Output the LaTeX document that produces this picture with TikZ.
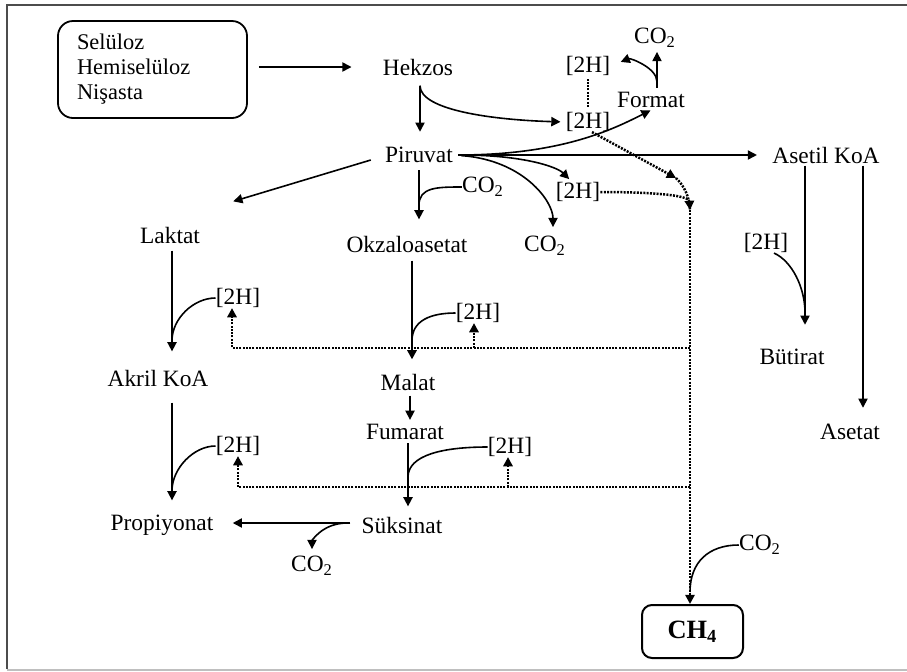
\documentclass[tikz,border=0pt]{standalone}
\usepackage{fontspec}
\setmainfont{Liberation Serif}
\usetikzlibrary{arrows.meta}
\begin{document}
\begin{tikzpicture}[x=0.5pt,y=-0.5pt,
  txt/.style={inner sep=0pt, font=\fontsize{11.7}{14}\selectfont},
  arr/.style={-{Triangle[length=4.6pt,width=4.6pt]}, line width=0.8pt},
  ln/.style={line width=0.8pt},
  dots/.style={line width=1.25pt, dash pattern=on 1pt off 0.65pt},
  darr/.style={dots, -{Triangle[length=4.6pt,width=4.6pt]}},
]
\useasboundingbox (0,0) rectangle (907,671);
\fill[white] (0,0) rectangle (907,671);
\draw[black!70, line width=1.2pt] (7,669) -- (7,5) -- (907,5);
\draw[black!25, line width=1pt] (7,669.5) -- (907,669.5);

% nodes
\node[draw, rounded corners=7.5pt, line width=0.9pt, minimum width=94.5pt, minimum height=48.5pt,
      inner sep=0pt, align=left, text width=75.5pt, font=\fontsize{11.2}{12.5}\selectfont]
      (src) at (152.5,69.5) {Selüloz\\Hemiselüloz\\Nişasta};
\node[txt] (hek) at (418,67) {Hekzos};
\node[txt] (pir) at (419,155) {Piruvat};
\node[txt] (h2a) at (588,66) {[2H]};
\node[txt] (co2a) at (655,38) {CO\textsubscript{2}};
\node[txt] (form) at (651,100) {Format};
\node[txt] (h2b) at (588,122) {[2H]};
\node[txt] (asetil) at (826,155) {Asetil KoA};
\node[txt] (h2c) at (578,192) {[2H]};
\node[txt] (co2b) at (545,246) {CO\textsubscript{2}};
\node[txt] (co2c) at (483,187) {CO\textsubscript{2}};
\node[txt] (lak) at (170,235) {Laktat};
\node[txt] (okz) at (407,244) {Okzaloasetat};
\node[txt] (h2d) at (238,298) {[2H]};
\node[txt] (h2e) at (478,313) {[2H]};
\node[txt] (akril) at (158,378) {Akril KoA};
\node[txt] (malat) at (408,382) {Malat};
\node[txt] (fum) at (405,432) {Fumarat};
\node[txt] (h2f) at (238,446) {[2H]};
\node[txt] (h2g) at (510,447) {[2H]};
\node[txt] (prop) at (162,525) {Propiyonat};
\node[txt] (suk) at (402,525) {Süksinat};
\node[txt] (co2d) at (312,566) {CO\textsubscript{2}};
\node[txt] (h2h) at (766,243) {[2H]};
\node[txt] (but) at (792,357) {Bütirat};
\node[txt] (asetat) at (850,432) {Asetat};
\node[txt] (co2e) at (760,545) {CO\textsubscript{2}};
\node[draw, rounded corners=5pt, line width=1pt, minimum width=50.5pt, minimum height=26.5pt,
      inner sep=0pt, font=\fontsize{13.2}{15}\selectfont\bfseries] (ch4) at (692.5,631.5) {CH\textsubscript{4}\hspace{7pt}};

\coordinate (j1) at (676,178);
\coordinate (j2) at (690,210);
\coordinate (j3) at (690,592);
\coordinate (r1) at (690,348);
\coordinate (r2) at (690,487);

% top
\draw[arr, shorten <=5.5pt, shorten >=15.5pt] (src.east |- hek.west) -- (hek.west);
\draw[arr, shorten <=5pt, shorten >=7.5pt] ([xshift=1pt]hek.south) -- ([xshift=1pt]hek.south |- pir.north);
\draw[arr, shorten >=2.5pt] ([xshift=1pt,yshift=-5pt]hek.south) .. controls +(0,25) and +(-70,-2) .. (h2b.west);
\draw[dots, shorten <=2.5pt, shorten >=1pt] (h2b.north) -- (h2a.south);
\draw[arr, shorten <=2pt, shorten >=2pt] ([xshift=3pt]form.north) -- ([xshift=3pt]form.north |- co2a.south);
\draw[arr, shorten >=5.5pt] ([xshift=3pt,yshift=5pt]form.north) .. controls +(0,-14) and +(20,-8) .. (h2a.east);
\draw[arr, shorten <=2.5pt, shorten >=2.5pt] (pir.east) .. controls +(110,0) and +(-40,20) .. ([xshift=2pt]form.south);
\draw[arr, shorten <=2.5pt, shorten >=7.5pt] (pir.east) -- (asetil.west);
\draw[arr, shorten <=4pt, shorten >=2pt] (pir.east) .. controls +(70,0) and +(-15,-15) .. ([xshift=-3pt]h2c.north);
\draw[arr, shorten <=4pt, shorten >=4.5pt] (pir.east) .. controls +(70,5) and +(0,-35) .. ([xshift=4pt]co2b.north);

% hydrogen to methane
\draw[darr] ([xshift=2pt]h2b.south) -- (j1);
\draw[dots] (j1) .. controls (684,186) and (689,195) .. (j2);
\draw[darr] (h2c.east) .. controls +(50,0) and +(-1,-15) .. (j2);
\draw[darr] (j2) -- (j2 |- ch4.north);
\draw[ln] (co2e.west) .. controls +(-30,0) and +(0,-30) .. (j3);

% left branch
\draw[arr] ([shift={(-7pt,-2.5pt)}]pir.west) -- ([shift={(16.5pt,12.5pt)}]lak.north east);
\draw[arr, shorten <=3.5pt, shorten >=8pt] (pir.south) -- (pir.south |- okz.north);
\draw[ln] (co2c.west) .. controls +(-25,0) and +(0,-18) .. ([yshift=-21pt]pir.south);
\draw[arr, shorten <=3.5pt, shorten >=9pt] ([xshift=1pt]lak.south) -- ([xshift=1pt]lak.south |- akril.north);
\draw[ln] (h2d.west) .. controls +(-22,0) and +(0,-22) .. ([xshift=1pt,yshift=-48.5pt]lak.south);
\draw[darr] (r1) -| ([xshift=-3pt]h2d.south);
\draw[darr] ([xshift=-2pt]h2e.south |- r1) -- ([xshift=-2pt]h2e.south);
\draw[arr, line width=1.2pt, shorten <=4pt, shorten >=7pt] ([xshift=2.5pt]okz.south) -- ([xshift=2.5pt]okz.south |- malat.north);
\draw[ln] (h2e.west) .. controls +(-25,0) and +(0,-20) .. ([xshift=2.5pt,yshift=-44pt]okz.south);
\draw[arr, shorten <=2.5pt, shorten >=2pt] ([xshift=1pt]malat.south) -- ([xshift=1pt]malat.south |- fum.north);
\draw[arr, shorten <=8pt, shorten >=7pt] ([xshift=7pt]akril.south) -- ([xshift=7pt]akril.south |- prop.north);
\draw[ln] (h2f.west) .. controls +(-22,0) and +(0,-22) .. ([xshift=7pt,yshift=-52pt]akril.south);
\draw[darr] (r2) -| (h2f.south);
\draw[darr] ([xshift=-1pt]h2g.south |- r2) -- ([xshift=-1pt]h2g.south);
\draw[arr, shorten <=1.5pt, shorten >=5pt] ([xshift=1.5pt]fum.south) -- ([xshift=1.5pt]fum.south |- suk.north);
\draw[ln] (h2g.west) .. controls +(-45,0) and +(0,-22) .. ([xshift=1.5pt,yshift=-18.5pt]fum.south);
\draw[arr, shorten <=5.5pt, shorten >=9.5pt] ([yshift=1pt]suk.west) -- ([yshift=1pt]suk.west -| prop.east);
\draw[arr, shorten >=3.5pt] ([shift={(-7pt,1pt)}]suk.west) .. controls +(-25,0) and +(0,-15) .. (co2d.north);

% right branch
\draw[arr, shorten <=1pt, shorten >=12pt] ([xshift=-10.5pt]asetil.south) -- ([xshift=-10.5pt]asetil.south |- but.north);
\draw[ln] ([xshift=4pt]h2h.south) .. controls +(18,8) and +(0,-25) .. ([xshift=-10.5pt,yshift=-74.5pt]asetil.south);
\draw[arr, shorten <=1pt, shorten >=8pt] ([xshift=18.5pt]asetil.south) -- ([xshift=18.5pt]asetil.south |- asetat.north);
\end{tikzpicture}
\end{document}
